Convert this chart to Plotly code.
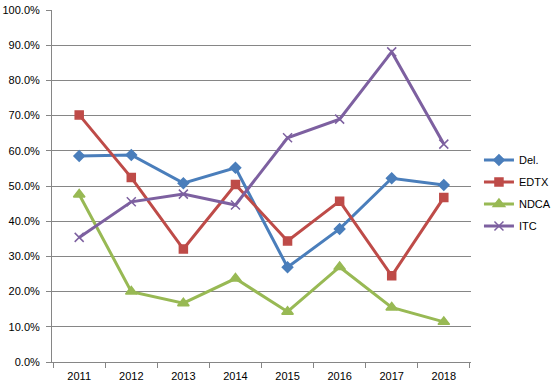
import plotly.graph_objects as go

years = ["2011", "2012", "2013", "2014", "2015", "2016", "2017", "2018"]
del_vals = [0.585, 0.588, 0.508, 0.552, 0.269, 0.378, 0.522, 0.503]
edtx_vals = [0.702, 0.524, 0.321, 0.504, 0.344, 0.457, 0.245, 0.467]
ndca_vals = [0.476, 0.200, 0.167, 0.237, 0.143, 0.270, 0.155, 0.114]
itc_vals = [0.354, 0.455, 0.477, 0.446, 0.637, 0.690, 0.881, 0.619]

series = [
    ("Del.", del_vals, "#4A7EBB", "diamond", 8),
    ("EDTX", edtx_vals, "#BE4B48", "square", 8),
    ("NDCA", ndca_vals, "#98B954", "triangle-up", 10),
    ("ITC", itc_vals, "#7D60A0", "x-thin-open", 9),
]

fig = go.Figure()
for name, vals, color, sym, size in series:
    fig.add_trace(go.Scatter(
        x=years, y=vals, name=name, mode="lines+markers", legendgroup=name,
        line=dict(color=color, width=3),
        marker=dict(symbol=sym, size=size, color=color,
                    line=dict(color=color, width=1.5)),
    ))

font = "Liberation Sans, Arial, sans-serif"
fig.update_layout(
    width=554, height=392,
    margin=dict(l=52, r=83, t=10, b=30, autoexpand=False),
    paper_bgcolor="white", plot_bgcolor="white",
    font=dict(family=font, size=11, color="#000000"),
    showlegend=True,
    legend=dict(x=1.019, xanchor="left", y=0.48, yanchor="middle",
                font=dict(size=11), itemwidth=30, tracegroupgap=3),
    xaxis=dict(
        type="category", showline=True, linecolor="#868686", linewidth=1,
        ticks="outside", tickson="boundaries", ticklen=5, tickcolor="#868686",
        showgrid=False, zeroline=False, automargin=False, ticklabelstandoff=4,
    ),
    yaxis=dict(
        range=[0, 1.0], dtick=0.1, tickformat=".1%",
        showline=True, linecolor="#868686", linewidth=1,
        ticks="outside", ticklen=5, tickcolor="#868686",
        showgrid=True, gridcolor="#868686", gridwidth=1, zeroline=False,
        automargin=False, ticklabelstandoff=4,
    ),
)

fig.write_html("out.html", config={"displayModeBar": False},
               post_script="document.body.style.margin='0';")
